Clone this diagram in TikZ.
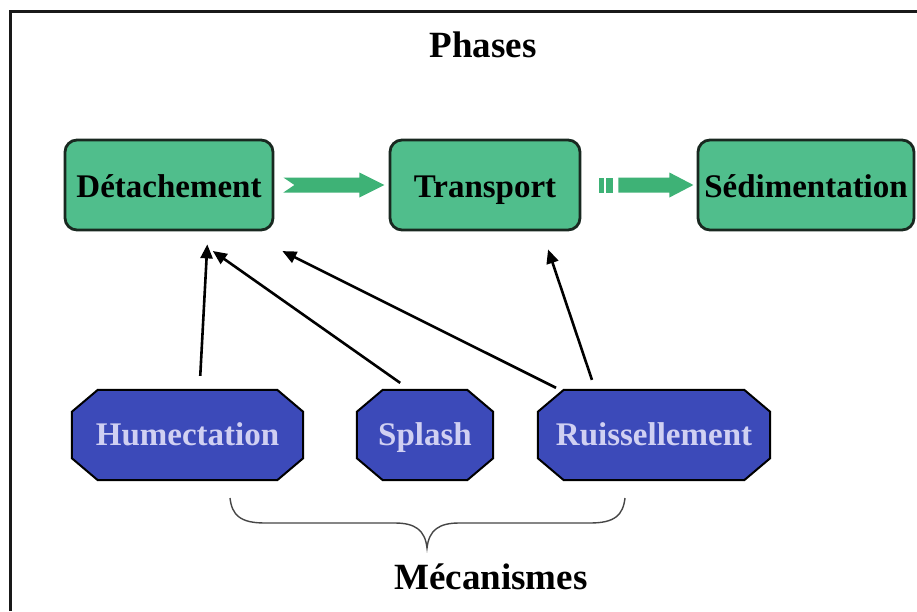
\documentclass[tikz,border=0pt]{standalone}
\usepackage{fontspec}
\setmainfont{Liberation Serif}
\usetikzlibrary{arrows.meta,calc}
\definecolor{boxgreen}{RGB}{80,190,140}
\definecolor{arrgreen}{RGB}{62,178,118}
\definecolor{boxline}{RGB}{25,40,32}
\definecolor{octblue}{RGB}{60,74,185}
\definecolor{octtext}{RGB}{208,208,242}
\definecolor{bracegray}{RGB}{70,70,70}
\newcommand{\octoframe}[1]{%
  \filldraw[octdraw] ($(#1.north west)+(26,0)$) -- ($(#1.north east)+(-26,0)$)
    -- ($(#1.north east)+(0,22)$) -- ($(#1.south east)+(0,-22)$)
    -- ($(#1.south east)+(-26,0)$) -- ($(#1.south west)+(26,0)$)
    -- ($(#1.south west)+(0,-22)$) -- ($(#1.north west)+(0,22)$) -- cycle;}
\tikzset{
  phasebox/.style={draw=boxline, line width=2.8pt, fill=boxgreen, rounded corners=12pt,
    minimum height=90pt, inner sep=2pt, text height=27pt, text depth=3pt,
    font=\fontsize{33}{38}\selectfont\bfseries, text=black},
  mecabox/.style={rectangle, minimum height=90pt, inner sep=2pt, text height=24pt, text depth=4pt,
    font=\fontsize{33}{38}\selectfont\bfseries, text=octtext},
  octdraw/.style={draw=black, line width=2pt, fill=octblue, line join=miter},
  titletext/.style={font=\fontsize{37}{42}\selectfont\bfseries, text=black},
  blkarrow/.style={draw=black, line width=2.6pt, -{Triangle[length=14pt,width=12pt]}},
  bigarrow/.style={fill=arrgreen, draw=none},
  framebar/.style={draw=black!90, line width=3pt}
}
\begin{document}
\begin{tikzpicture}[x=1pt,y=-1pt]
\useasboundingbox (0,0) rectangle (917,611);
\fill[white] (0,0) rectangle (917,611);
\draw[framebar] (10,611) -- (10,11) -- (917,11);

\node[titletext] (phases) at (483,45) {Phases};

\node[phasebox, minimum width=208pt] (det) at (169,185) {Détachement};
\node[phasebox, minimum width=190pt] (tr) at (485,185) {Transport};
\node[phasebox, minimum width=216pt] (sed) at (806,185) {Sédimentation};

% green arrow with notched tail
\begin{scope}[shift={(det.east)}]
\fill[bigarrow] (9,-7.5) -- (85,-7.5) -- (85,-12.5) -- (110,0) -- (85,12.5) -- (85,7.5)
  -- (9,7.5) -- (20,0) -- cycle;
\end{scope}
% green arrow with striped tail
\begin{scope}[shift={(tr.east)}]
\fill[bigarrow] (18,-7.5) rectangle (23,7.5);
\fill[bigarrow] (25,-7.5) rectangle (32,7.5);
\fill[bigarrow] (37,-7.5) -- (88,-7.5) -- (88,-12.5) -- (112,0) -- (88,12.5) -- (88,7.5) -- (37,7.5) -- cycle;
\end{scope}

% mechanism octagons
\node[mecabox, minimum width=231pt] (hum) at (187.5,435) {};
\node[mecabox, minimum width=136pt] (spl) at (425,435) {};
\node[mecabox, minimum width=232pt] (rui) at (654,435) {};
\octoframe{hum}
\octoframe{spl}
\octoframe{rui}
\node[mecabox] (humt) at (hum.center) {Humectation};
\node[mecabox] (splt) at (spl.center) {Splash};
\node[mecabox] (ruit) at (rui.center) {Ruissellement};

\draw[blkarrow, shorten <=14pt, shorten >=13pt] ([xshift=12pt]hum.north) -- ([xshift=39pt]det.south);
\draw[blkarrow, shorten <=12pt, shorten >=34pt] ([xshift=-15pt]spl.north) -- ([xshift=16pt]det.south);
\draw[blkarrow, shorten <=4.5pt, shorten >=44pt] ([xshift=-94pt]rui.north) -- ([xshift=74pt]det.south);
\draw[blkarrow, shorten <=10.5pt, shorten >=19pt] ([xshift=-58.7pt]rui.north) -- ([xshift=57pt]tr.south);

% brace
\coordinate (bl) at (230,498);
\coordinate (br) at (625,498);
\coordinate (btip) at (427,548);
\draw[bracegray, line width=1.4pt] (bl) .. controls (232,515) and (240,523) .. (265,523)
  -- (395,523) .. controls (415,523) and (425,530) .. (btip)
  .. controls (429,530) and (439,523) .. (459,523) -- (590,523)
  .. controls (615,523) and (623,515) .. (br);

\node[titletext] (meca) at (491,577) {Mécanismes};
\end{tikzpicture}
\end{document}
